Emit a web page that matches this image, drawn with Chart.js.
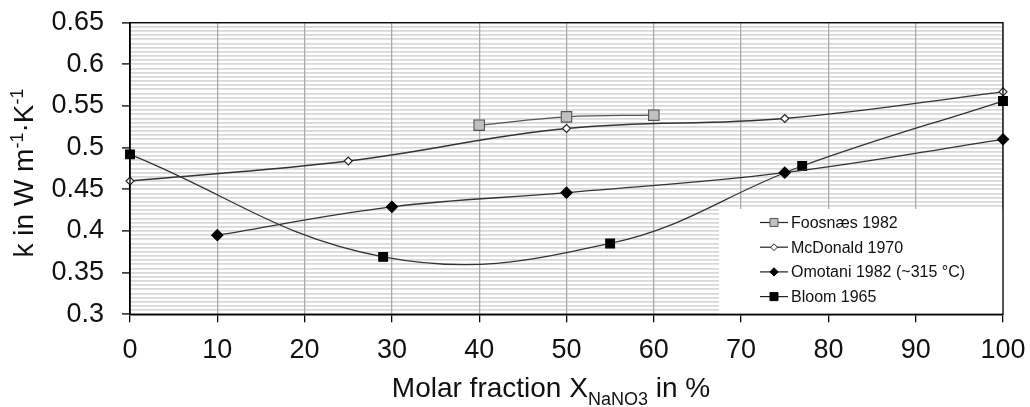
<!DOCTYPE html>
<html>
<head>
<meta charset="utf-8">
<script src="https://cdn.jsdelivr.net/npm/chart.js@4.4.1/dist/chart.umd.min.js"></script>
<style>
  html, body { margin: 0; padding: 0; background: #fff; }
</style>
</head>
<body>
<canvas id="chart" width="1030" height="407"></canvas>
<script>
const FONT = '"Liberation Sans", Arial, sans-serif';

// data
const seriesNames = ['Foosnæs 1982', 'McDonald 1970', 'Omotani 1982 (~315 °C)', 'Bloom 1965'];
const foosnaesX = [40, 50, 60];
const foosnaesK = [0.527, 0.537, 0.539];
const mcdonaldX = [0, 25, 50, 75, 100];
const mcdonaldK = [0.460, 0.484, 0.523, 0.535, 0.567];
const omotaniX = [10, 30, 50, 75, 100];
const omotaniK = [0.395, 0.429, 0.446, 0.470, 0.510];
const bloomX = [0, 29, 55, 77, 100];
const bloomK = [0.492, 0.369, 0.385, 0.478, 0.556];
const xTickLabels = [0, 10, 20, 30, 40, 50, 60, 70, 80, 90, 100];
const yTickLabels = [0.3, 0.35, 0.4, 0.45, 0.5, 0.55, 0.6, 0.65];

const toPoints = (xs, ys) => xs.map((x, i) => ({ x, y: ys[i] }));
const isMajorY = v => yTickLabels.some(t => Math.abs(t - v) < 1e-6);

function drawMarker(ctx, style, x, y, r, fill, stroke) {
    ctx.beginPath();
    if (style === 'rect') {
        const s = r * Math.SQRT1_2;
        ctx.rect(x - s, y - s, 2 * s, 2 * s);
    } else {
        ctx.moveTo(x, y - r);
        ctx.lineTo(x + r, y);
        ctx.lineTo(x, y + r);
        ctx.lineTo(x - r, y);
        ctx.closePath();
    }
    ctx.fillStyle = fill;
    ctx.fill();
    ctx.lineWidth = 1;
    ctx.strokeStyle = stroke;
    ctx.stroke();
}

// legend sitting inside the plot, bottom right, on a white box
const legendMarks = [
    { style: 'rect', r: 5.7, fill: '#c0c0c0', stroke: '#555' },
    { style: 'rectRot', r: 3.4, fill: '#fff', stroke: '#222' },
    { style: 'rectRot', r: 4.2, fill: '#000', stroke: '#000' },
    { style: 'rect', r: 5.7, fill: '#000', stroke: '#000' }
];
const insideLegend = {
    id: 'insideLegend',
    afterDatasetsDraw(chart) {
        const { ctx, chartArea } = chart;
        ctx.save();
        ctx.fillStyle = '#fff';
        ctx.fillRect(719, 209, chartArea.right - 719, chartArea.bottom - 209);
        ctx.font = '16px ' + FONT;
        ctx.textBaseline = 'middle';
        chart.data.datasets.forEach((ds, i) => {
            const y = 222.5 + i * 24.7;
            ctx.strokeStyle = '#222';
            ctx.lineWidth = 1.2;
            ctx.beginPath();
            ctx.moveTo(760, y);
            ctx.lineTo(788, y);
            ctx.stroke();
            const m = legendMarks[i];
            drawMarker(ctx, m.style, 774, y, m.r, m.fill, m.stroke);
            ctx.fillStyle = '#111';
            ctx.fillText(ds.label, 791, y + 1);
        });
        ctx.restore();
    },
    afterDraw(chart) {
        const { ctx, chartArea } = chart;
        ctx.save();
        ctx.strokeStyle = '#000';
        ctx.lineWidth = 1.3;
        ctx.strokeRect(chartArea.left, chartArea.top, chartArea.right - chartArea.left, chartArea.bottom - chartArea.top);
        ctx.restore();
    }
};

// axis titles with sub/superscripts
const axisTitles = {
    id: 'axisTitles',
    afterDraw(chart) {
        const ctx = chart.ctx;
        ctx.save();
        ctx.fillStyle = '#111';
        ctx.textBaseline = 'alphabetic';
        ctx.textAlign = 'left';

        // x title
        const big = '28px ' + FONT, small = '18px ' + FONT;
        const parts = [['Molar fraction X', big, 0], ['NaNO3', small, 8], [' in %', big, 0]];
        let total = 0;
        parts.forEach(p => { ctx.font = p[1]; total += ctx.measureText(p[0]).width; });
        let x = 551 - total / 2;
        parts.forEach(p => {
            ctx.font = p[1];
            ctx.fillText(p[0], x, 397 + p[2]);
            x += ctx.measureText(p[0]).width;
        });

        // y title
        ctx.translate(33, 173);
        ctx.rotate(-Math.PI / 2);
        const yParts = [['k in W m', '28px ' + FONT, 0], ['-1', '18px ' + FONT, -10], ['·K', '28px ' + FONT, 0], ['-1', '18px ' + FONT, -10]];
        total = 0;
        yParts.forEach(p => { ctx.font = p[1]; total += ctx.measureText(p[0]).width; });
        x = -total / 2;
        yParts.forEach(p => {
            ctx.font = p[1];
            ctx.fillText(p[0], x, p[2]);
            x += ctx.measureText(p[0]).width;
        });
        ctx.restore();
    }
};

const lineCommon = {
    borderColor: '#333',
    borderWidth: 1.3,
    tension: 0.4,
    clip: false,
    pointBorderWidth: 1.1
};

new Chart(document.getElementById('chart'), {
    type: 'scatter',
    data: {
        datasets: [
            Object.assign({}, lineCommon, {
                label: seriesNames[0],
                data: toPoints(foosnaesX, foosnaesK),
                showLine: true,
                borderColor: '#555',
                pointStyle: 'rect',
                pointRadius: 7.4,
                pointBackgroundColor: '#c0c0c0',
                pointBorderColor: '#555'
            }),
            Object.assign({}, lineCommon, {
                label: seriesNames[1],
                data: toPoints(mcdonaldX, mcdonaldK),
                showLine: true,
                pointStyle: 'rectRot',
                pointRadius: 4,
                pointBackgroundColor: '#fff',
                pointBorderColor: '#222'
            }),
            Object.assign({}, lineCommon, {
                label: seriesNames[2],
                data: toPoints(omotaniX, omotaniK),
                showLine: true,
                pointStyle: 'rectRot',
                pointRadius: 5.6,
                pointBackgroundColor: '#000',
                pointBorderColor: '#000'
            }),
            Object.assign({}, lineCommon, {
                label: seriesNames[3],
                data: toPoints(bloomX, bloomK),
                showLine: true,
                pointStyle: 'rect',
                pointRadius: 6.2,
                pointBackgroundColor: '#000',
                pointBorderColor: '#000'
            })
        ]
    },
    options: {
        responsive: false,
        animation: false,
        devicePixelRatio: 1,
        layout: { padding: { top: 22.7, right: 27, bottom: 0, left: 0 } },
        plugins: {
            legend: { display: false },
            tooltip: { enabled: false }
        },
        scales: {
            x: {
                type: 'linear',
                min: 0,
                max: 100,
                ticks: {
                    stepSize: 10,
                    autoSkip: false,
                    maxRotation: 0,
                    padding: 12,
                    color: '#111',
                    font: { family: FONT, size: 27 },
                    callback: v => xTickLabels.includes(v) ? String(v) : ''
                },
                grid: { color: '#ababab', lineWidth: 1.3, tickLength: 8, tickColor: '#000', tickWidth: 1.3 },
                border: { color: '#000', width: 1.5 },
                afterFit: s => { s.height = 92.7; s.paddingLeft = 0; s.paddingRight = 0; }
            },
            y: {
                min: 0.3,
                max: 0.65,
                ticks: {
                    stepSize: 0.005,
                    autoSkip: false,
                    padding: 18,
                    color: '#111',
                    font: { family: FONT, size: 27 },
                    callback: v => isMajorY(v) ? String(Math.round(v * 100) / 100) : ''
                },
                grid: {
                    z: -2, // minor horizontal lines go under the vertical ones
                    color: '#d8d8d8',
                    lineWidth: 1.8,
                    tickLength: 8,
                    tickWidth: 1.3,
                    tickColor: c => (c.tick && isMajorY(c.tick.value)) ? '#000' : 'rgba(0,0,0,0)'
                },
                border: { color: '#000', width: 1.5 },
                afterFit: s => { s.width = 130; s.paddingTop = 0; s.paddingBottom = 0; }
            }
        }
    },
    plugins: [insideLegend, axisTitles]
});
</script>
</body>
</html>
